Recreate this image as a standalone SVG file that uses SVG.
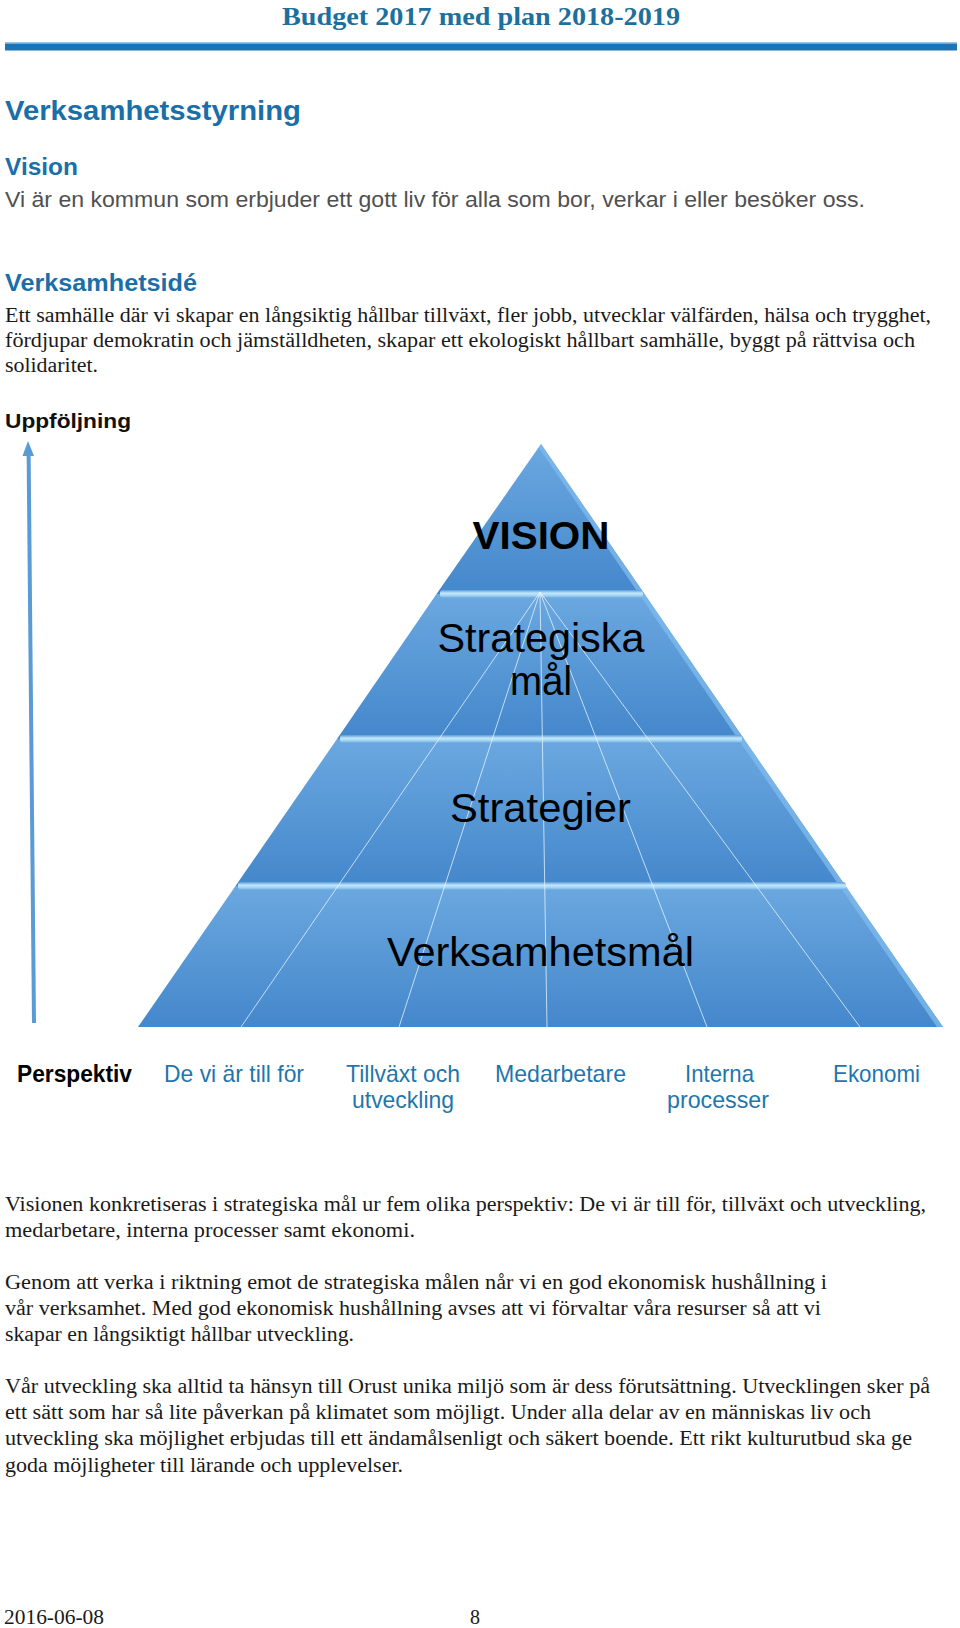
<svg xmlns="http://www.w3.org/2000/svg" width="960" height="1628" viewBox="0 0 960 1628">
<defs>
<style>
.serif{font-family:"Liberation Serif","Times New Roman",serif;font-size:20px;fill:#1a1a1a}
.head{font-family:"Liberation Sans",Arial,sans-serif;font-weight:bold;fill:#1a6fa8}
.grey{font-family:"Liberation Sans",Arial,sans-serif;font-size:22px;fill:#505050}
.persp{font-family:"Liberation Sans",Arial,sans-serif;font-size:24px;fill:#1f76ad}
.pyr{font-family:"Liberation Sans",Arial,sans-serif;font-size:41px;fill:#000}
.fan{stroke:#e8f4ff;stroke-width:0.9;stroke-opacity:0.85;fill:none}
.strip{fill:#7db9ec;fill-opacity:0.8}
</style>
<linearGradient id="layer" x1="0" y1="0" x2="0" y2="1">
<stop offset="0" stop-color="#6ba8e0"/>
<stop offset="1" stop-color="#4487cb"/>
</linearGradient>
<linearGradient id="band" x1="0" y1="0" x2="0" y2="1">
<stop offset="0" stop-color="#5c9cd8"/>
<stop offset="0.4" stop-color="#c2e8fb"/>
<stop offset="0.7" stop-color="#a3d3f4"/>
<stop offset="1" stop-color="#6aa8df"/>
</linearGradient>
</defs>

<rect width="960" height="1628" fill="#ffffff"/>

<g id="header">
<text x="481" y="25" text-anchor="middle" font-family="'Liberation Serif','Times New Roman',serif" font-weight="bold" font-size="26" fill="#1d6f9d" textLength="398" lengthAdjust="spacingAndGlyphs">Budget 2017 med plan 2018-2019</text>
<rect x="5" y="42" width="952" height="1.5" fill="#9cc6e6"/>
<rect x="5" y="43.5" width="952" height="7" fill="#1b74b6"/>
</g>

<g id="intro">
<text class="head" x="5" y="120" font-size="28" textLength="296" lengthAdjust="spacingAndGlyphs">Verksamhetsstyrning</text>
<text class="head" x="5" y="175" font-size="23.5" textLength="73" lengthAdjust="spacingAndGlyphs">Vision</text>
<text class="grey" x="5" y="207" textLength="860" lengthAdjust="spacingAndGlyphs">Vi är en kommun som erbjuder ett gott liv för alla som bor, verkar i eller besöker oss.</text>
<text class="head" x="5" y="291" font-size="23" textLength="192" lengthAdjust="spacingAndGlyphs">Verksamhetsidé</text>
<text class="serif" x="5" y="322" textLength="926" lengthAdjust="spacingAndGlyphs">Ett samhälle där vi skapar en långsiktig hållbar tillväxt, fler jobb, utvecklar välfärden, hälsa och trygghet,</text>
<text class="serif" x="5" y="347" textLength="910" lengthAdjust="spacingAndGlyphs">fördjupar demokratin och jämställdheten, skapar ett ekologiskt hållbart samhälle, byggt på rättvisa och</text>
<text class="serif" x="5" y="372" textLength="93" lengthAdjust="spacingAndGlyphs">solidaritet.</text>
<text x="5" y="428" font-family="'Liberation Sans',Arial,sans-serif" font-weight="bold" font-size="20" fill="#111" textLength="126" lengthAdjust="spacingAndGlyphs">Uppföljning</text>
</g>

<g id="connectors">
<line x1="34" y1="1023" x2="28.6" y2="452" stroke="#5b9bd5" stroke-width="4"/>
<polygon points="28,441 34,456 22.5,456" fill="#5b9bd5"/>
</g>

<g id="pyramid">
<g id="layer-vision">
<polygon points="541,444 644.5,594 436.5,594" fill="url(#layer)"/>
<polygon class="strip" points="541,444 644.5,594 639,594 539,448"/>
</g>
<g id="layer-strategiska">
<polygon points="436.5,594 644.5,594 744,739 337,739" fill="url(#layer)"/>
<polygon class="strip" points="644.5,594 744,739 738,739 639,594"/>
</g>
<g id="layer-strategier">
<polygon points="337,739 744,739 845.5,886 235.5,886" fill="url(#layer)"/>
<polygon class="strip" points="744,739 845.5,886 839.5,886 738,739"/>
</g>
<g id="layer-verksamhetsmal">
<polygon points="235.5,886 845.5,886 943,1027 138,1027" fill="url(#layer)"/>
<polygon class="strip" points="845.5,886 943,1027 937,1027 839.5,886"/>
</g>
<rect x="440" y="590" width="203" height="8" rx="3" fill="url(#band)"/>
<rect x="340" y="735" width="402" height="8" rx="3" fill="url(#band)"/>
<rect x="238" y="882" width="608" height="8" rx="3" fill="url(#band)"/>
<g id="fan">
<line class="fan" x1="540" y1="592" x2="241" y2="1027"/>
<line class="fan" x1="540" y1="592" x2="399" y2="1027"/>
<line class="fan" x1="540" y1="592" x2="547" y2="1027"/>
<line class="fan" x1="540" y1="592" x2="707" y2="1027"/>
<line class="fan" x1="540" y1="592" x2="860" y2="1027"/>
</g>
<text x="541" y="549" text-anchor="middle" font-family="'Liberation Sans',Arial,sans-serif" font-weight="bold" font-size="38" fill="#000" textLength="137" lengthAdjust="spacingAndGlyphs">VISION</text>
<text class="pyr" x="541" y="652" text-anchor="middle" textLength="207" lengthAdjust="spacingAndGlyphs">Strategiska</text>
<text class="pyr" x="541" y="695" text-anchor="middle" textLength="62" lengthAdjust="spacingAndGlyphs">mål</text>
<text class="pyr" x="540.5" y="822" text-anchor="middle" textLength="181" lengthAdjust="spacingAndGlyphs">Strategier</text>
<text class="pyr" x="540.5" y="966" text-anchor="middle" textLength="307" lengthAdjust="spacingAndGlyphs">Verksamhetsmål</text>
</g>

<g id="perspectives">
<text x="17" y="1082" font-family="'Liberation Sans',Arial,sans-serif" font-weight="bold" font-size="24" fill="#000" textLength="115" lengthAdjust="spacingAndGlyphs">Perspektiv</text>
<text class="persp" x="164" y="1082" textLength="140" lengthAdjust="spacingAndGlyphs">De vi är till för</text>
<text class="persp" x="403" y="1082" text-anchor="middle" textLength="114" lengthAdjust="spacingAndGlyphs">Tillväxt och</text>
<text class="persp" x="403" y="1108" text-anchor="middle" textLength="102" lengthAdjust="spacingAndGlyphs">utveckling</text>
<text class="persp" x="495" y="1082" textLength="131" lengthAdjust="spacingAndGlyphs">Medarbetare</text>
<text class="persp" x="719.5" y="1082" text-anchor="middle" textLength="69" lengthAdjust="spacingAndGlyphs">Interna</text>
<text class="persp" x="718" y="1108" text-anchor="middle" textLength="102" lengthAdjust="spacingAndGlyphs">processer</text>
<text class="persp" x="833" y="1082" textLength="87" lengthAdjust="spacingAndGlyphs">Ekonomi</text>
</g>

<g id="body">
<text class="serif" x="5" y="1211" textLength="921" lengthAdjust="spacingAndGlyphs">Visionen konkretiseras i strategiska mål ur fem olika perspektiv: De vi är till för, tillväxt och utveckling,</text>
<text class="serif" x="5" y="1237" textLength="410" lengthAdjust="spacingAndGlyphs">medarbetare, interna processer samt ekonomi.</text>
<text class="serif" x="5" y="1289" textLength="822" lengthAdjust="spacingAndGlyphs">Genom att verka i riktning emot de strategiska målen når vi en god ekonomisk hushållning i</text>
<text class="serif" x="5" y="1315" textLength="816" lengthAdjust="spacingAndGlyphs">vår verksamhet. Med god ekonomisk hushållning avses att vi förvaltar våra resurser så att vi</text>
<text class="serif" x="5" y="1341" textLength="349" lengthAdjust="spacingAndGlyphs">skapar en långsiktigt hållbar utveckling.</text>
<text class="serif" x="5" y="1393" textLength="925" lengthAdjust="spacingAndGlyphs">Vår utveckling ska alltid ta hänsyn till Orust unika miljö som är dess förutsättning. Utvecklingen sker på</text>
<text class="serif" x="5" y="1419" textLength="866" lengthAdjust="spacingAndGlyphs">ett sätt som har så lite påverkan på klimatet som möjligt. Under alla delar av en människas liv och</text>
<text class="serif" x="5" y="1445" textLength="907" lengthAdjust="spacingAndGlyphs">utveckling ska möjlighet erbjudas till ett ändamålsenligt och säkert boende. Ett rikt kulturutbud ska ge</text>
<text class="serif" x="5" y="1472" textLength="398" lengthAdjust="spacingAndGlyphs">goda möjligheter till lärande och upplevelser.</text>
</g>

<g id="footer">
<text class="serif" x="4" y="1624" textLength="100" lengthAdjust="spacingAndGlyphs">2016-06-08</text>
<text class="serif" x="470" y="1624" textLength="10" lengthAdjust="spacingAndGlyphs">8</text>
</g>
</svg>
